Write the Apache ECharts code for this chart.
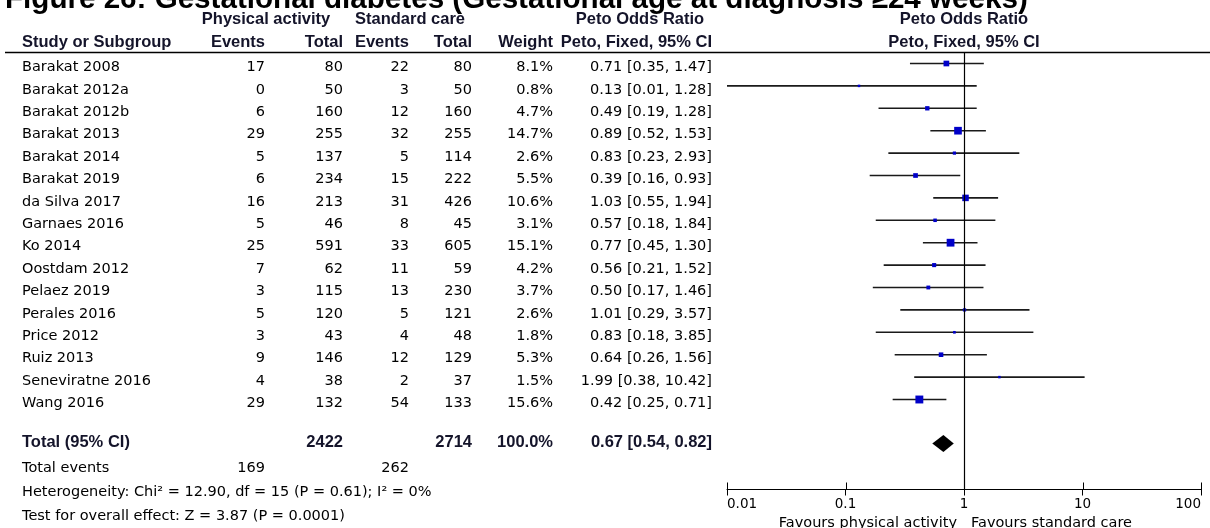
<!DOCTYPE html>
<html>
<head>
<meta charset="utf-8">
<script src="https://cdn.jsdelivr.net/npm/echarts@6/dist/echarts.min.js"></script>
<style>
  html, body { margin: 0; padding: 0; background: #fff; }
  #chart { width: 1210px; height: 528px; }
</style>
</head>
<body>
<div id="chart"></div>
<script>
// Gestational diabetes forest plot: physical activity vs standard care (Peto OR, fixed effect)
const studies = ['Barakat 2008', 'Barakat 2012a', 'Barakat 2012b', 'Barakat 2013', 'Barakat 2014',
  'Barakat 2019', 'da Silva 2017', 'Garnaes 2016', 'Ko 2014', 'Oostdam 2012', 'Pelaez 2019',
  'Perales 2016', 'Price 2012', 'Ruiz 2013', 'Seneviratne 2016', 'Wang 2016'];
const paEvents = [17, 0, 6, 29, 5, 6, 16, 5, 25, 7, 3, 5, 3, 9, 4, 29];
const paTotal  = [80, 50, 160, 255, 137, 234, 213, 46, 591, 62, 115, 120, 43, 146, 38, 132];
const scEvents = [22, 3, 12, 32, 5, 15, 31, 8, 33, 11, 13, 5, 4, 12, 2, 54];
const scTotal  = [80, 50, 160, 255, 114, 222, 426, 45, 605, 59, 230, 121, 48, 129, 37, 133];
const weights  = [8.1, 0.8, 4.7, 14.7, 2.6, 5.5, 10.6, 3.1, 15.1, 4.2, 3.7, 2.6, 1.8, 5.3, 1.5, 15.6];
const oddsRatio = [0.71, 0.13, 0.49, 0.89, 0.83, 0.39, 1.03, 0.57, 0.77, 0.56, 0.50, 1.01, 0.83, 0.64, 1.99, 0.42];
const ciLower  = [0.35, 0.01, 0.19, 0.52, 0.23, 0.16, 0.55, 0.18, 0.45, 0.21, 0.17, 0.29, 0.18, 0.26, 0.38, 0.25];
const ciUpper  = [1.47, 1.28, 1.28, 1.53, 2.93, 0.93, 1.94, 1.84, 1.30, 1.52, 1.46, 3.57, 3.85, 1.56, 10.42, 0.71];

// pooled estimate: [OR, lower, upper]
const pooledOR = [0.67, 0.54, 0.82];
const pooledTotals = [2422, 2714];
const pooledWeight = '100.0%';
const totalEvents = [169, 262];
const heterogeneityText = 'Heterogeneity: Chi² = 12.90, df = 15 (P = 0.61); I² = 0%';
const overallEffectText = 'Test for overall effect: Z = 3.87 (P = 0.0001)';

const tickValues = [0.01, 0.1, 1, 10, 100];
const tickLabels = ['0.01', '0.1', '1', '10', '100'];

const titleText = 'Figure 26: Gestational diabetes (Gestational age at diagnosis ≥24 weeks)';

// layout
const PLOT_LEFT = 727, PLOT_RIGHT = 1201, PLOT_TOP = 52, AXIS_Y = 489;
const FIRST_ROW = 63.5, ROW_H = 22.4;
const TEXT_DY = 4;
const POOLED_ROW = 16.96;
const TICK_LEN = 6.5;
const yMin = -(FIRST_ROW - PLOT_TOP) / ROW_H;
const yMax = yMin + (AXIS_Y - PLOT_TOP) / ROW_H;

const BODY_FONT = "'DejaVu Sans', sans-serif";
const BOLD_FONT = "'Liberation Sans', Arial, sans-serif";

const studyRows = studies.map((s, i) => [i, ciLower[i], ciUpper[i], oddsRatio[i], weights[i]]);

const chart = echarts.init(document.getElementById('chart'), null, { renderer: 'canvas' });

chart.setOption({
  animation: false,
  backgroundColor: '#fff',
  grid: { left: PLOT_LEFT, right: 1210 - PLOT_RIGHT, top: PLOT_TOP, bottom: 528 - AXIS_Y, containLabel: false },
  xAxis: {
    type: 'log', logBase: 10, min: tickValues[0], max: tickValues[tickValues.length - 1],
    position: 'bottom', splitLine: { show: false },
    axisLine: { show: true, onZero: false, lineStyle: { color: '#000', width: 1 } },
    axisTick: { show: true, length: TICK_LEN, lineStyle: { color: '#000', width: 1 } },
    axisLabel: {
      show: true, color: '#000', fontFamily: BODY_FONT, fontSize: 13.5, margin: 8,
      alignMinLabel: 'left', alignMaxLabel: 'right',
      formatter: function (v) {
        const k = Math.round(Math.log10(v)) - Math.round(Math.log10(tickValues[0]));
        return tickLabels[k] !== undefined ? tickLabels[k] : String(v);
      }
    }
  },
  yAxis: { type: 'value', inverse: true, min: yMin, max: yMax, show: false },
  series: [
    {
      type: 'custom',
      name: 'studies',
      encode: { x: [1, 2, 3], y: 0 },
      data: studyRows,
      renderItem: function (params, api) {
        const y = api.value(0);
        const pLo = api.coord([api.value(1), y]);
        const pHi = api.coord([api.value(2), y]);
        const pOr = api.coord([api.value(3), y]);
        // square area proportional to study weight
        const s = Math.max(2.5, 2.0 * Math.sqrt(api.value(4)));
        return {
          type: 'group',
          children: [
            { type: 'line', shape: { x1: pLo[0], y1: pLo[1], x2: pHi[0], y2: pHi[1] },
              style: { stroke: '#1a1a1a', lineWidth: 1.6 } },
            { type: 'rect', shape: { x: pOr[0] - s / 2, y: pOr[1] - s / 2, width: s, height: s },
              style: { fill: '#0000c8' } }
          ]
        };
      },
      markLine: {
        silent: true, symbol: 'none', animation: false,
        label: { show: false },
        lineStyle: { color: '#000', width: 1.2, type: 'solid' },
        data: [{ xAxis: 1 }]
      },
      z: 3
    },
    {
      type: 'custom',
      name: 'pooled',
      encode: { x: [1, 2, 3], y: 0 },
      data: [[POOLED_ROW, pooledOR[1], pooledOR[2], pooledOR[0]]],
      renderItem: function (params, api) {
        const y = api.value(0);
        const pLo = api.coord([api.value(1), y]);
        const pHi = api.coord([api.value(2), y]);
        const pOr = api.coord([api.value(3), y]);
        const h = 8.5;
        return {
          type: 'polygon',
          shape: { points: [[pLo[0], pOr[1]], [pOr[0], pOr[1] - h], [pHi[0], pOr[1]], [pOr[0], pOr[1] + h]] },
          style: { fill: '#000' }
        };
      },
      z: 4
    },
    {
      // upper half of the decade ticks, so they cross the axis line
      type: 'custom',
      name: 'ticks',
      silent: true,
      encode: { x: 0, y: 1 },
      data: tickValues.map(v => [v, yMax]),
      renderItem: function (params, api) {
        const p = api.coord([api.value(0), api.value(1)]);
        const x = Math.round(p[0]) + 0.5;
        return {
          type: 'line',
          shape: { x1: x, y1: p[1], x2: x, y2: p[1] - TICK_LEN },
          style: { stroke: '#000', lineWidth: 1 }
        };
      },
      z: 5
    }
  ]
});

// table text, placed on the same rows as the plotted estimates
function rowY(v) { return chart.convertToPixel({ yAxisIndex: 0 }, v); }
function xAt(v) { return chart.convertToPixel({ xAxisIndex: 0 }, v); }

function txt(str, x, y, align, opts) {
  opts = opts || {};
  return {
    type: 'text', x: x, y: y, silent: true,
    style: {
      text: str,
      fill: opts.color || '#000',
      fontFamily: opts.bold ? BOLD_FONT : BODY_FONT,
      fontWeight: opts.bold ? 'bold' : 'normal',
      fontSize: opts.size || 14.5,
      align: align, textAlign: align,
      verticalAlign: 'middle', textVerticalAlign: 'middle'
    }
  };
}

const COL = { study: 22, paE: 265, paT: 343, scE: 409, scT: 472, wt: 553, ci: 712 };
const HEAD_SIZE = 16.5;
const HEAD_COLOR = '#14142a';
const fmtCI = (o, l, u) => o.toFixed(2) + ' [' + l.toFixed(2) + ', ' + u.toFixed(2) + ']';

const els = [];
// title
els.push(txt(titleText, 5, -0.5, 'left', { bold: true, size: 29.6 }));
// header rows
const H1 = 19, H2 = 42;
const hd = { bold: true, size: HEAD_SIZE, color: HEAD_COLOR };
els.push(txt('Physical activity', 266, H1, 'center', hd));
els.push(txt('Standard care', 410, H1, 'center', hd));
els.push(txt('Peto Odds Ratio', 640, H1, 'center', hd));
els.push(txt('Peto Odds Ratio', xAt(1), H1, 'center', hd));
els.push(txt('Study or Subgroup', COL.study, H2, 'left', hd));
els.push(txt('Events', COL.paE, H2, 'right', hd));
els.push(txt('Total', COL.paT, H2, 'right', hd));
els.push(txt('Events', COL.scE, H2, 'right', hd));
els.push(txt('Total', COL.scT, H2, 'right', hd));
els.push(txt('Weight', COL.wt, H2, 'right', hd));
els.push(txt('Peto, Fixed, 95% CI', COL.ci, H2, 'right', hd));
els.push(txt('Peto, Fixed, 95% CI', xAt(1), H2, 'center', hd));
// header rule
els.push({ type: 'line', silent: true, shape: { x1: 5, y1: PLOT_TOP + 0.5, x2: 1210, y2: PLOT_TOP + 0.5 },
  style: { stroke: '#000', lineWidth: 1.6 } });

// study rows
studies.forEach((s, i) => {
  const y = rowY(i) + TEXT_DY;
  els.push(txt(s, COL.study, y, 'left'));
  els.push(txt(String(paEvents[i]), COL.paE, y, 'right'));
  els.push(txt(String(paTotal[i]), COL.paT, y, 'right'));
  els.push(txt(String(scEvents[i]), COL.scE, y, 'right'));
  els.push(txt(String(scTotal[i]), COL.scT, y, 'right'));
  els.push(txt(weights[i].toFixed(1) + '%', COL.wt, y, 'right'));
  els.push(txt(fmtCI(oddsRatio[i], ciLower[i], ciUpper[i]), COL.ci, y, 'right'));
});

// pooled row and summary lines
const yP = rowY(POOLED_ROW) - 0.5;
els.push(txt('Total (95% CI)', COL.study, yP, 'left', hd));
els.push(txt(String(pooledTotals[0]), COL.paT, yP, 'right', hd));
els.push(txt(String(pooledTotals[1]), COL.scT, yP, 'right', hd));
els.push(txt(pooledWeight, COL.wt, yP, 'right', hd));
els.push(txt(fmtCI(pooledOR[0], pooledOR[1], pooledOR[2]), COL.ci, yP, 'right', hd));

els.push(txt('Total events', COL.study, 468, 'left'));
els.push(txt(String(totalEvents[0]), COL.paE, 468, 'right'));
els.push(txt(String(totalEvents[1]), COL.scE, 468, 'right'));
els.push(txt(heterogeneityText, COL.study, 492, 'left'));
els.push(txt(overallEffectText, COL.study, 516, 'left'));

// favours labels either side of the null line
const xNull = xAt(1);
els.push(txt('Favours physical activity', xNull - 7, 523, 'right'));
els.push(txt('Favours standard care', xNull + 7, 523, 'left'));

chart.setOption({ graphic: { elements: els } });
</script>
</body>
</html>
